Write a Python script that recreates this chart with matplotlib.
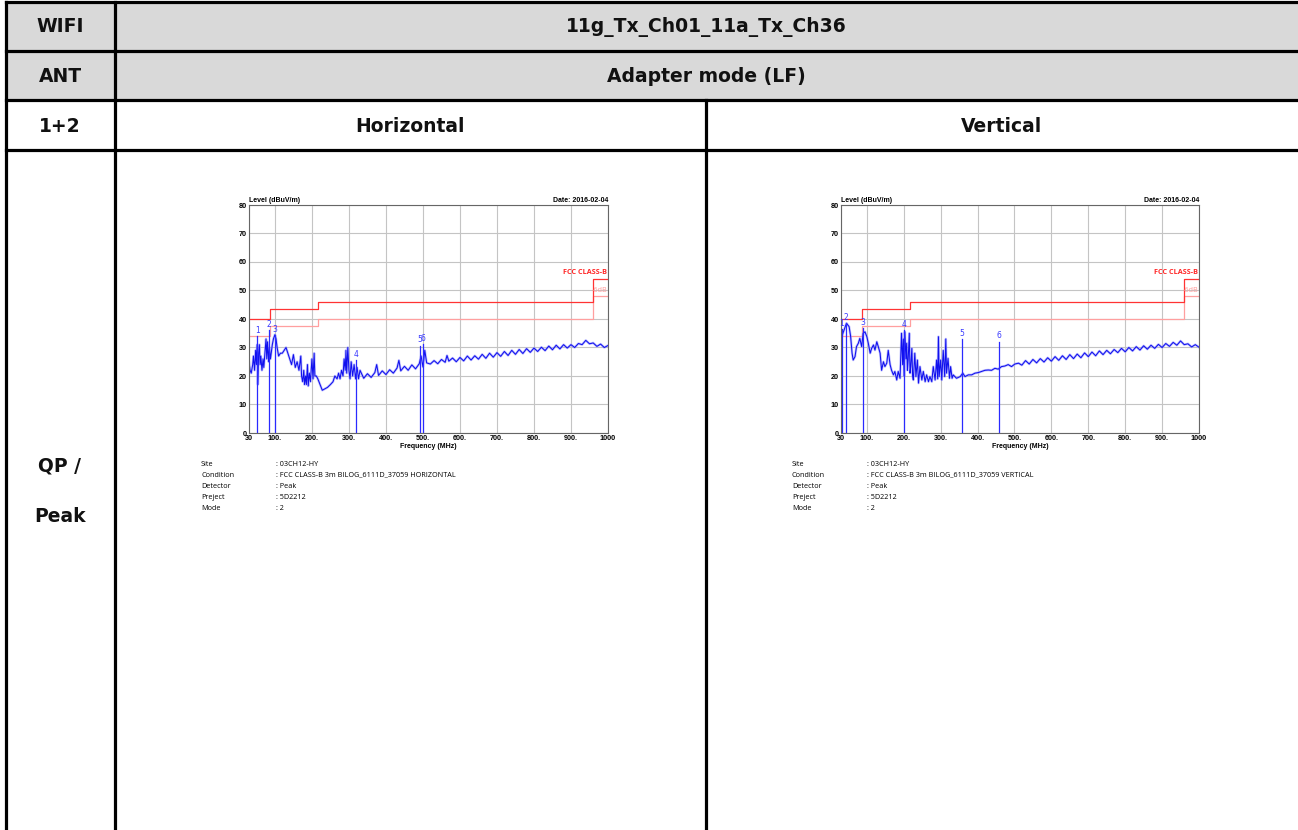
import numpy as np
import matplotlib
matplotlib.use("Agg")
import matplotlib.pyplot as plt
from matplotlib.lines import Line2D
from matplotlib.patches import Rectangle

W, H = 1298, 830

# ---- table texts ----
row_heads = ["WIFI", "ANT", "1+2", "QP /", "Peak"]
row_heads_y = [27, 76, 126, 466, 516]
wifi_mode = "11g_Tx_Ch01_11a_Tx_Ch36"
ant_mode = "Adapter mode (LF)"
pol_heads = ["Horizontal", "Vertical"]

# ---- EMI scan, horizontal polarisation ----
h_freq = [30, 33, 36, 40, 42, 45, 48, 50, 52, 54,
          56, 58, 60, 62, 65, 68, 70, 73, 76, 78,
          80, 83, 85, 88, 90, 93, 96, 100, 103, 106,
          110, 115, 120, 125, 130, 135, 140, 145, 150, 155,
          160, 165, 170, 172, 175, 178, 180, 183, 185, 188,
          190, 193, 196, 200, 203, 206, 208, 212, 216, 222,
          228, 235, 242, 250, 257, 262, 268, 272, 276, 280,
          284, 287, 290, 292, 294, 297, 300, 303, 306, 310,
          314, 318, 322, 326, 330, 340, 350, 360, 370, 375,
          380, 390, 400, 410, 420, 430, 435, 440, 450, 460,
          470, 480, 490, 495, 500, 505, 510, 520, 530, 540,
          550, 560, 565, 570, 580, 590, 600, 610, 620, 630,
          640, 650, 660, 670, 680, 690, 700, 710, 720, 730,
          740, 750, 760, 770, 780, 790, 800, 810, 820, 830,
          840, 850, 860, 870, 880, 890, 900, 910, 920, 930,
          940, 950, 960, 970, 980, 990, 1000]
h_level = [25, 22, 21, 24, 27, 22, 29, 24, 31, 17,
           28, 31, 24, 27, 22, 26, 23, 28, 33, 26,
           32, 25, 30, 26, 28, 31, 33, 34.5, 33, 30,
           27, 28, 28, 29, 30, 28, 26, 24, 27.5, 23,
           25, 22, 27, 20, 18, 22, 17, 20, 17, 24,
           16.5, 21, 18, 26, 19, 28, 20, 20, 19, 17,
           15, 15.5, 16, 17, 18, 20, 19, 21, 19, 22,
           20, 26, 22, 29, 21, 30, 22, 19, 25, 20,
           24, 19, 23, 19, 22, 19.2, 20.8, 19.5, 21.2, 24,
           20.2, 21.8, 20.5, 22.2, 21, 22.8, 25.5, 21.8, 23.4, 22,
           23.9, 22.5, 24.3, 27, 23.2, 29, 24.6, 24.2, 25.4, 24.3,
           25.8, 24.8, 27.2, 25.2, 26.3, 25, 26.5, 25.3, 27, 25.6,
           27.1, 25.9, 27.6, 26.2, 28, 26.6, 28.2, 26.9, 28.6, 27.2,
           29, 27.6, 29.3, 27.9, 29.6, 28.3, 29.8, 28.6, 30.1, 28.9,
           30.5, 29.2, 30.8, 29.5, 31, 29.8, 31, 30, 31.4, 31,
           32.5, 31.3, 31.6, 30.4, 31.2, 30, 30.7]
h_mk_f = [52.5, 83, 101, 318, 491, 499]
h_mk_l = [34, 36.2, 34.5, 25.7, 30.7, 31.3]

# ---- EMI scan, vertical polarisation ----
v_freq = [30, 32, 35, 38, 42, 45, 48, 52, 56, 60,
          63, 68, 72, 77, 81, 86, 90, 95, 100, 104,
          109, 113, 118, 122, 127, 131, 136, 140, 145, 149,
          154, 158, 163, 167, 172, 176, 181, 185, 190, 194,
          197, 199, 201, 203, 206, 208, 210, 212, 215, 217,
          219, 222, 224, 226, 230, 233, 237, 240, 244, 249,
          253, 258, 262, 267, 271, 276, 280, 285, 289, 292,
          294, 296, 300, 303, 307, 311, 314, 316, 320, 324,
          327, 331, 334, 343, 353, 360, 366, 375, 384, 393,
          402, 411, 420, 429, 438, 447, 456, 465, 474, 483,
          492, 501, 511, 520, 530, 540, 550, 560, 570, 580,
          590, 600, 610, 620, 630, 640, 650, 660, 670, 680,
          690, 700, 710, 720, 730, 740, 750, 760, 770, 780,
          790, 800, 810, 820, 830, 840, 850, 860, 870, 880,
          890, 900, 910, 920, 930, 940, 950, 960, 970, 980,
          990, 1000]
v_level = [31.5, 33.8, 35, 36, 37.5, 38.5, 38, 37.3, 34, 28,
           25.6, 26.8, 30.3, 31.5, 33.2, 30.3, 35, 35.5, 33.8, 31.5,
           28, 29.7, 30.9, 29.1, 32, 30.3, 28, 22, 25, 23.3,
           24.5, 29, 24, 22, 20.4, 21.6, 18.6, 21.6, 19.2, 35,
           24, 33, 20, 35.5, 26, 31.5, 22, 25.6, 35, 21,
           23.3, 29.7, 20, 18.6, 28, 19.8, 25.6, 17.5, 23.3, 18.6,
           21.6, 18, 20.4, 18, 19.8, 18, 23.3, 18.6, 25.6, 19,
           33.8, 19.8, 25.6, 18.6, 29, 19.8, 33, 21, 26.2, 19.2,
           23.3, 19.2, 20.4, 19.2, 19.8, 21, 19.8, 20.4, 20.4, 21,
           21.2, 21.6, 22, 22.1, 22, 22.7, 22.4, 23.3, 23.5, 24,
           23.3, 24.2, 24.5, 23.8, 25.4, 24.2, 25.8, 24.6, 26.1, 24.9,
           26.4, 25.2, 26.8, 25.5, 27.1, 25.8, 27.5, 26.1, 27.7, 26.4,
           28.1, 26.8, 28.4, 27.1, 28.8, 27.5, 29, 27.8, 29.3, 28.2,
           29.7, 28.5, 30, 28.8, 30.3, 29.1, 30.6, 29.4, 30.8, 29.7,
           31.1, 30, 31.4, 30.4, 31.8, 30.8, 32.3, 31, 31.3, 30.2,
           31, 30.1]
v_mk_f = [32, 42.5, 90.5, 201.5, 358.5, 458.5]
v_mk_l = [36.5, 38.5, 36.8, 36.2, 33, 32.1]

# FCC class B limit and the -6 dB margin line
lim_f = [30, 88, 216, 960, 1000]
lim_l = [40, 43.5, 46, 54, 54]
margin_l = [34, 37.5, 40, 48, 48]

xticks = [30, 100, 200, 300, 400, 500, 600, 700, 800, 900, 1000]
xtick_labels = ["30", "100.", "200.", "300.", "400.", "500.", "600.",
                "700.", "800.", "900.", "1000"]
yticks = [0, 10, 20, 30, 40, 50, 60, 70, 80]

info_keys = ["Site", "Condition", "Detector", "Preject", "Mode"]
info_h = [": 03CH12-HY", ": FCC CLASS-B 3m BILOG_6111D_37059 HORIZONTAL",
          ": Peak", ": 5D2212", ": 2"]
info_v = [": 03CH12-HY", ": FCC CLASS-B 3m BILOG_6111D_37059 VERTICAL",
          ": Peak", ": 5D2212", ": 2"]


def fx(x):
    return x / W


def fy(y):
    return 1 - y / H


fig = plt.figure(figsize=(W / 100, H / 100), dpi=100)
fig.patch.set_facecolor("white")

# header shading
fig.add_artist(Rectangle((fx(6), fy(100)), fx(W - 6), 98 / H,
                         transform=fig.transFigure, facecolor="#d9d9d9",
                         edgecolor="none", zorder=0))

lw = 2.3
for y in [2, 51, 100, 150]:
    fig.add_artist(Line2D([fx(6), 1], [fy(y), fy(y)], color="black", lw=lw,
                          transform=fig.transFigure))
for x, y0 in [(6, 2), (115, 2), (706, 100)]:
    fig.add_artist(Line2D([fx(x), fx(x)], [fy(y0), 0], color="black", lw=lw,
                          transform=fig.transFigure))

tkw = dict(fontsize=13.5, fontweight="bold", family="DejaVu Sans",
           ha="center", va="center", color="#111111")
for lab, y in zip(row_heads, row_heads_y):
    fig.text(fx(60), fy(y), lab, **tkw)
fig.text(fx(706), fy(27), wifi_mode, **tkw)
fig.text(fx(706), fy(76), ant_mode, **tkw)
fig.text(fx(410), fy(126), pol_heads[0], **tkw)
fig.text(fx(1002), fy(126), pol_heads[1], **tkw)


def emi_plot(left, right, freq, level, mk_f, mk_l, keys, vals, kx, vx):
    ax = fig.add_axes([fx(left), fy(433), (right - left) / W, 228 / H])
    ax.set_xlim(30, 1000)
    ax.set_ylim(0, 80)
    ax.set_xticks(xticks)
    ax.set_xticklabels(xtick_labels)
    ax.set_yticks(yticks)
    ax.grid(True, color="#c4c4c4", lw=0.8)
    ax.set_axisbelow(True)
    ax.tick_params(length=0, pad=1.5, labelsize=5.2)
    for t in ax.get_xticklabels() + ax.get_yticklabels():
        t.set_fontweight("bold")
        t.set_family("Liberation Sans")
    for s in ax.spines.values():
        s.set_color("#666666")
        s.set_linewidth(0.8)

    ax.step(lim_f, margin_l, where="post", color="#ff9f9f", lw=0.9)
    ax.step(lim_f, lim_l, where="post", color="#ff3333", lw=0.9)
    ax.text(998, 55.2, "FCC CLASS-B", color="#ff2a2a", fontsize=5.2,
            fontweight="bold", family="Open Sans", ha="right", va="bottom")
    ax.text(998, 48.6, "-6dB", color="#ff9a9a", fontsize=5.2,
            family="Open Sans", ha="right", va="bottom")

    ax.plot(freq, level, color="#9a9aff", lw=1.8, alpha=0.6)
    ax.plot(freq, level, color="#1010ee", lw=0.75)
    for i, (f, l) in enumerate(zip(mk_f, mk_l)):
        ax.plot([f, f], [0, l], color="#2a2aff", lw=0.9)
        ax.text(f, l + 0.4, str(i + 1), color="#3a3aff", fontsize=5.5,
                ha="center", va="bottom", family="DejaVu Sans")

    ax.text(0, 1.005, "Level (dBuV/m)", transform=ax.transAxes, fontsize=5,
            fontweight="bold", family="Liberation Sans", ha="left", va="bottom")
    ax.text(1, 1.005, "Date: 2016-02-04", transform=ax.transAxes,
            fontsize=5, fontweight="bold", family="Liberation Sans",
            ha="right", va="bottom")
    ax.set_xlabel("Frequency (MHz)", fontsize=5, fontweight="bold",
                  family="Liberation Sans", labelpad=1)

    for k, v, y in zip(keys, vals, [464, 475, 486, 497, 508]):
        fig.text(fx(kx), fy(y), k, fontsize=5.2, family="Open Sans",
                 ha="left", va="center")
        fig.text(fx(vx), fy(y), v, fontsize=5.2, family="Open Sans",
                 ha="left", va="center")
    return ax


emi_plot(249, 608, h_freq, h_level, h_mk_f, h_mk_l, info_keys, info_h, 201, 276)
emi_plot(841, 1199, v_freq, v_level, v_mk_f, v_mk_l, info_keys, info_v, 792, 867)

fig.savefig("out.png", dpi=100)
